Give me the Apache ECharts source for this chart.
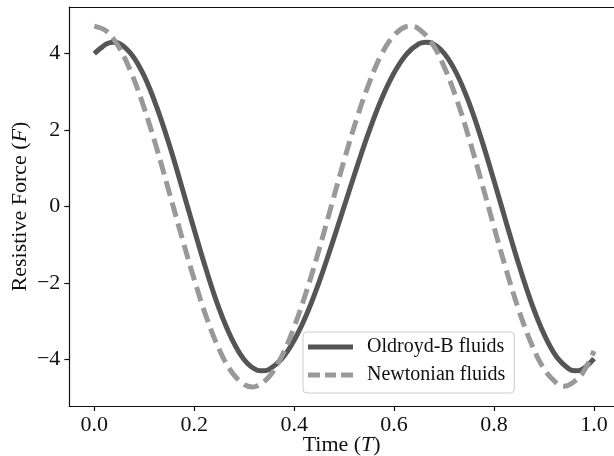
<!DOCTYPE html>
<html>
<head>
<meta charset="utf-8">
<script src="https://cdn.jsdelivr.net/npm/echarts@6/dist/echarts.min.js"></script>
<style>
  html, body { margin: 0; padding: 0; background: #fff; }
  #chart { width: 614px; height: 456px; }
</style>
</head>
<body>
<div id="chart"></div>
<script>
// Oldroyd-B curve (time T, force F)
const oldroydTimes = [0, 0.0125, 0.025, 0.038, 0.05, 0.075, 0.1, 0.125, 0.15, 0.175,
  0.2, 0.225, 0.25, 0.275, 0.3, 0.325, 0.335, 0.35, 0.375, 0.4,
  0.425, 0.45, 0.475, 0.5, 0.525, 0.55, 0.575, 0.6, 0.625, 0.65,
  0.665, 0.675, 0.7, 0.725, 0.75, 0.775, 0.8, 0.825, 0.85, 0.875,
  0.9, 0.925, 0.95, 0.962, 0.975, 1.0];
const oldroydForce = [4.0, 4.14, 4.26, 4.30, 4.27, 3.97, 3.41, 2.60, 1.62, 0.52,
  -0.61, -1.70, -2.68, -3.46, -4.01, -4.28, -4.30, -4.26, -3.99, -3.50,
  -2.82, -1.97, -1.01, 0.0, 1.01, 1.97, 2.82, 3.50, 3.99, 4.26,
  4.30, 4.28, 4.01, 3.48, 2.71, 1.75, 0.67, -0.45, -1.54, -2.53,
  -3.34, -3.93, -4.25, -4.30, -4.27, -3.98];

// Newtonian curve
const newtonTimes = [0, 0.025, 0.05, 0.075, 0.1, 0.125, 0.15, 0.175, 0.2, 0.225,
  0.25, 0.275, 0.3, 0.316, 0.325, 0.35, 0.375, 0.4, 0.425, 0.45,
  0.475, 0.5, 0.525, 0.55, 0.575, 0.6, 0.625, 0.632, 0.65, 0.675,
  0.7, 0.725, 0.75, 0.775, 0.8, 0.825, 0.85, 0.875, 0.9, 0.925,
  0.94, 0.95, 0.975, 1.0];
const newtonForce = [4.72, 4.58, 4.15, 3.47, 2.57, 1.52, 0.37, -0.79, -1.91, -2.92,
  -3.74, -4.33, -4.66, -4.72, -4.70, -4.45, -3.92, -3.15, -2.20, -1.12,
  0.05, 1.21, 2.29, 3.23, 3.99, 4.48, 4.71, 4.72, 4.64, 4.29,
  3.66, 2.81, 1.78, 0.64, -0.54, -1.69, -2.73, -3.60, -4.25, -4.62,
  -4.70, -4.67, -4.40, -3.78];

const seriesNames = ['Oldroyd-B fluids', 'Newtonian fluids'];
const xTicks = [0, 0.2, 0.4, 0.6, 0.8, 1.0];
const yTicks = [-4, -2, 0, 2, 4];

const font = 'Liberation Serif, Times New Roman, serif';
const ink = '#111';

const chart = echarts.init(document.getElementById('chart'));

const option = {
  animation: false,
  backgroundColor: '#fff',
  grid: { left: 69.3, right: 0, top: 7, bottom: 50, outerBoundsMode: 'none' },
  legend: {
    left: 303,
    top: 332,
    orient: 'vertical',
    itemWidth: 45,
    itemHeight: 5,
    itemGap: 8,
    padding: [5, 9, 8, 5],
    backgroundColor: 'rgba(255,255,255,0.8)',
    borderColor: '#cccccc',
    borderWidth: 1,
    borderRadius: 4,
    textStyle: { fontFamily: font, fontSize: 20, color: ink, lineHeight: 20, padding: [0, 0, 0, 9] },
    data: [
      { name: seriesNames[0], icon: 'path://M0 0h45v5H0z', itemStyle: { color: '#555555' } },
      { name: seriesNames[1], icon: 'path://M0 0h12v5H0zM17 0h11v5H17zM33 0h12v5H33z', itemStyle: { color: '#999999' } }
    ]
  },
  xAxis: [{
    type: 'value',
    min: -0.05,
    max: 1.04,
    name: 'Time ({i|T})',
    nameLocation: 'middle',
    nameGap: 28,
    nameMoveOverlap: false,
    nameTextStyle: {
      fontFamily: font, fontSize: 22, color: ink,
      rich: { i: { fontFamily: font, fontSize: 22, fontStyle: 'italic', color: ink } }
    },
    axisLine: { show: true, onZero: false, lineStyle: { color: ink, width: 1.2 } },
    axisTick: { show: true, length: 5, lineStyle: { color: ink, width: 1.2 }, customValues: xTicks },
    axisLabel: {
      fontFamily: font, fontSize: 22, color: ink, margin: 8,
      customValues: xTicks,
      formatter: v => v.toFixed(1)
    },
    splitLine: { show: false }
  }, {
    type: 'value',
    position: 'top',
    min: -0.05,
    max: 1.04,
    axisLine: { show: true, onZero: false, lineStyle: { color: ink, width: 1.2 } },
    axisTick: { show: false },
    axisLabel: { show: false },
    splitLine: { show: false }
  }],
  yAxis: {
    type: 'value',
    min: -5.22,
    max: 5.22,
    name: 'Resistive Force ({i|F})',
    nameLocation: 'middle',
    nameGap: 38,
    nameMoveOverlap: false,
    nameTextStyle: {
      fontFamily: font, fontSize: 22, color: ink,
      rich: { i: { fontFamily: font, fontSize: 22, fontStyle: 'italic', color: ink } }
    },
    axisLine: { show: true, onZero: false, lineStyle: { color: ink, width: 1.2 } },
    axisTick: { show: true, length: 5, lineStyle: { color: ink, width: 1.2 }, customValues: yTicks },
    axisLabel: {
      fontFamily: font, fontSize: 22, color: ink, margin: 9,
      customValues: yTicks,
      formatter: v => String(v).replace('-', '\u2212')
    },
    splitLine: { show: false }
  },
  series: [
    {
      name: seriesNames[0],
      type: 'line',
      data: oldroydTimes.map((t, i) => [t, oldroydForce[i]]),
      smooth: 0.4,
      symbol: 'none',
      lineStyle: { color: '#555555', width: 5 },
      itemStyle: { color: '#555555' }
    },
    {
      name: seriesNames[1],
      type: 'line',
      data: newtonTimes.map((t, i) => [t, newtonForce[i]]),
      smooth: 0.4,
      symbol: 'none',
      lineStyle: { color: '#999999', width: 5, type: [15, 7] },
      itemStyle: { color: '#999999' }
    }
  ]
};

chart.setOption(option);

window.addEventListener('resize', () => chart.resize());
</script>
</body>
</html>
